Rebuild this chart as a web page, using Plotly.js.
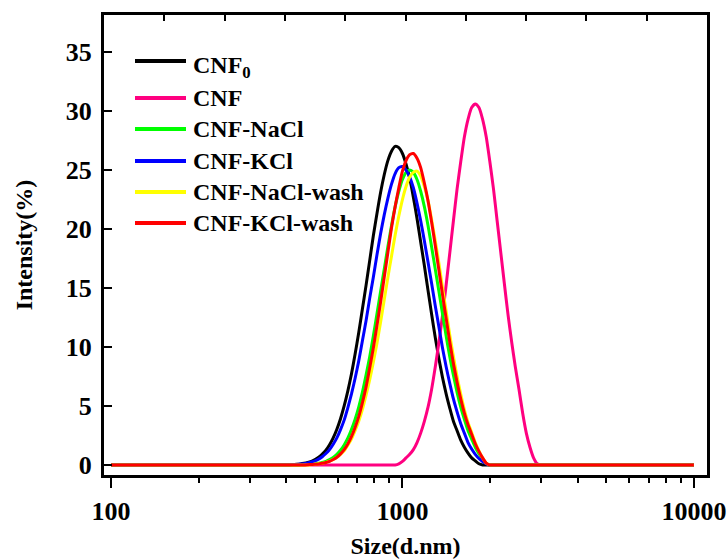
<!DOCTYPE html>
<html>
<head>
<meta charset="utf-8">
<script src="https://cdn.plot.ly/plotly-3.0.1.min.js"></script>
<style>html,body{margin:0;padding:0;background:#fff;}#chart{width:727px;height:559px;}</style>
</head>
<body>
<div id="chart"></div>
<script>
// Particle size (d.nm)
const sizes = [100,
  398.1, 409.7, 421.7, 434.0, 446.7, 459.7, 473.2, 487.0,
  501.2, 515.8, 530.9, 546.4, 562.3, 578.7, 595.7, 613.1,
  631.0, 649.4, 668.3, 687.8, 707.9, 728.6, 749.9, 771.8,
  794.3, 817.5, 841.4, 866.0, 891.3, 917.3, 944.1, 971.7,
  1000, 1029, 1059, 1090, 1122, 1155, 1189, 1224,
  1259, 1296, 1334, 1373, 1413, 1454, 1496, 1540,
  1585, 1631, 1679, 1728, 1778, 1830, 1884, 1939,
  1995, 2053, 2113, 2175, 2239, 2304, 2371, 2440,
  2512, 2585, 2661, 2739, 2818, 2900, 2985, 3072,
  3162, 10000];

// Intensity (%)
const cnf0 = [0,
  0.01, 0.02, 0.04, 0.06, 0.09, 0.14, 0.21, 0.31,
  0.46, 0.65, 0.92, 1.26, 1.72, 2.30, 3.03, 3.92,
  5.0, 6.26, 7.7, 9.38, 11.2, 13.2, 15.2, 17.3,
  19.4, 21.3, 23.1, 24.6, 25.8, 26.6, 27.0, 26.9,
  26.4, 25.5, 24.3, 22.7, 20.9, 18.9, 16.9, 14.8,
  12.8, 10.8, 9.0, 7.4, 6.0, 4.8, 3.7, 2.9,
  2.1, 1.5, 1.0, 0.6, 0.35, 0.1, 0, 0,
  0, 0, 0, 0, 0, 0, 0, 0,
  0, 0, 0, 0, 0, 0, 0, 0,
  0, 0];
const cnf = [0,
  0, 0, 0, 0, 0, 0, 0, 0,
  0, 0, 0, 0, 0, 0, 0, 0,
  0, 0, 0, 0, 0, 0, 0, 0,
  0, 0, 0, 0, 0, 0, 0, 0.1,
  0.3, 0.6, 0.9, 1.3, 1.9, 2.7, 3.7, 4.9,
  6.4, 8.3, 10.4, 12.7, 15.3, 18.0, 20.7, 23.4,
  25.7, 27.8, 29.3, 30.3, 30.6, 30.3, 29.3, 27.8,
  25.7, 23.4, 20.7, 18.0, 15.3, 12.7, 10.4, 8.3,
  6.4, 4.4, 2.7, 1.5, 0.6, 0.1, 0, 0,
  0, 0];
const cnfNaCl = [0,
  0, 0, 0, 0, 0.01, 0.02, 0.04, 0.06,
  0.09, 0.14, 0.21, 0.31, 0.45, 0.64, 0.9, 1.25,
  1.7, 2.27, 3.0, 3.86, 4.9, 6.15, 7.6, 9.15,
  10.9, 12.8, 14.7, 16.6, 18.5, 20.3, 21.9, 23.2,
  24.2, 24.8, 25.0, 24.8, 24.2, 23.2, 21.9, 20.3,
  18.5, 16.6, 14.7, 12.8, 10.9, 9.15, 7.6, 6.15,
  4.9, 3.86, 2.9, 2.2, 1.5, 0.95, 0.5, 0.15,
  0, 0, 0, 0, 0, 0, 0, 0,
  0, 0, 0, 0, 0, 0, 0, 0,
  0, 0];
const cnfKCl = [0,
  0.01, 0.02, 0.03, 0.05, 0.08, 0.11, 0.17, 0.25,
  0.35, 0.50, 0.7, 0.97, 1.3, 1.76, 2.3, 3.0,
  3.8, 4.84, 6.0, 7.33, 8.8, 10.5, 12.2, 14.1,
  15.9, 17.8, 19.6, 21.2, 22.6, 23.8, 24.7, 25.2,
  25.3, 25.0, 24.4, 23.5, 22.2, 20.7, 19.0, 17.2,
  15.4, 13.5, 11.7, 9.9, 8.3, 6.9, 5.6, 4.5,
  3.5, 2.7, 1.9, 1.35, 0.9, 0.55, 0.3, 0.1,
  0, 0, 0, 0, 0, 0, 0, 0,
  0, 0, 0, 0, 0, 0, 0, 0,
  0, 0];
const cnfNaClW = [0,
  0, 0, 0, 0, 0, 0, 0, 0.02,
  0.06, 0.1, 0.15, 0.22, 0.32, 0.46, 0.65, 0.9,
  1.2, 1.67, 2.2, 2.9, 3.7, 4.7, 5.9, 7.2,
  8.7, 10.3, 12.1, 14.0, 15.9, 17.7, 19.5, 21.1,
  22.5, 23.6, 24.4, 24.8, 24.9, 24.5, 23.6, 22.4,
  20.8, 19.0, 17.1, 15.0, 13.0, 11.0, 9.2, 7.5,
  6.0, 4.7, 3.6, 2.75, 1.9, 1.2, 0.6, 0.15,
  0, 0, 0, 0, 0, 0, 0, 0,
  0, 0, 0, 0, 0, 0, 0, 0,
  0, 0];
const cnfKClW = [0,
  0, 0, 0, 0, 0, 0, 0.02, 0.04,
  0.06, 0.09, 0.14, 0.21, 0.31, 0.46, 0.66, 0.94,
  1.3, 1.78, 2.4, 3.18, 4.1, 5.27, 6.6, 8.2,
  9.9, 11.8, 13.8, 15.9, 18.0, 20.1, 21.9, 23.5,
  24.9, 25.8, 26.3, 26.4, 26.0, 25.2, 23.9, 22.4,
  20.6, 18.6, 16.5, 14.4, 12.4, 10.4, 8.6, 7.0,
  5.6, 4.4, 3.4, 2.6, 1.8, 1.15, 0.6, 0.15,
  0, 0, 0, 0, 0, 0, 0, 0,
  0, 0, 0, 0, 0, 0, 0, 0,
  0, 0];

const seriesNames = ['CNF<sub>0</sub>', 'CNF', 'CNF-NaCl', 'CNF-KCl', 'CNF-NaCl-wash', 'CNF-KCl-wash'];
const seriesData = [cnf0, cnf, cnfNaCl, cnfKCl, cnfNaClW, cnfKClW];

const xTickVals = [100, 1000, 10000];
const xTickText = ['100', '1000', '10000'];
const yTickVals = [0, 5, 10, 15, 20, 25, 30, 35];

// styles
const colors = ['#000000', '#FF0080', '#00FF00', '#0000FF', '#FFFF00', '#FF0000'];
const FONT = 'Liberation Serif, Times New Roman, serif';
const FS = 26;

const traces = seriesData.map((ys, i) => ({
  x: sizes, y: ys, type: 'scatter', mode: 'lines',
  name: seriesNames[i],
  line: {color: colors[i], width: 3, shape: 'spline', smoothing: 0.6, simplify: false},
  showlegend: false, hoverinfo: 'skip'
}));
traces.push({x: [], y: [], xaxis: 'x2', yaxis: 'y', type: 'scatter', showlegend: false});

// minor tick positions from decades
const minorVals = [];
for (let d = 100; d < 10000; d *= 10) for (let k = 2; k <= 9; k++) minorVals.push(d * k);

// custom legend (plot area: x 104..707, y 15..475)
const PL = 104, PW = 603, PT = 15, PH = 460;
const px2x = p => (p - PL) / PW;
const py2y = p => (PT + PH - p) / PH;
const rowY = [61, 98, 129, 161, 192, 223];
const shapes = [], annotations = [];
seriesNames.forEach((n, i) => {
  shapes.push({type: 'line', xref: 'paper', yref: 'paper', x0: px2x(135), x1: px2x(186),
    y0: py2y(rowY[i]), y1: py2y(rowY[i]), line: {color: colors[i], width: 4}});
  annotations.push({xref: 'paper', yref: 'paper', x: px2x(191), y: py2y(rowY[i]) + (i === 0 ? -0.012 : 0),
    xanchor: 'left', yanchor: 'middle', text: n, showarrow: false,
    font: {family: FONT, size: 24, color: '#000', weight: 'bold'}});
});

const tickFont = {family: FONT, size: FS, color: '#000', weight: 'bold'};

const layout = {
  width: 727, height: 559,
  margin: {l: 104, r: 20, t: 15, b: 84},
  paper_bgcolor: '#fff', plot_bgcolor: '#fff',
  showlegend: false,
  xaxis: {
    type: 'log', range: [1.976, 4.045],
    tickvals: xTickVals, ticktext: xTickText,
    ticks: 'outside', ticklen: 10, tickwidth: 2, tickcolor: '#000',
    minor: {tickvals: minorVals, ticks: 'outside', ticklen: 5, tickwidth: 2, tickcolor: '#000', showgrid: false},
    showline: true, linewidth: 3, linecolor: '#000', mirror: true,
    showgrid: false, zeroline: false,
    tickfont: tickFont, ticklabelstandoff: 1,
    title: {text: 'Size(d.nm)', font: {family: FONT, size: 24, color: '#000', weight: 'bold'}, standoff: 15},
    automargin: false
  },
  xaxis2: {
    overlaying: 'x', side: 'top', anchor: 'y', range: [0, 10], dtick: 1,
    ticks: 'inside', ticklen: 6, tickwidth: 2, tickcolor: '#000',
    showticklabels: false, showline: false, showgrid: false, zeroline: false
  },
  yaxis: {
    range: [-0.85, 38.14],
    tickvals: yTickVals,
    ticks: 'inside', ticklen: 8, tickwidth: 2, tickcolor: '#000',
    showline: true, linewidth: 3, linecolor: '#000', mirror: true,
    showgrid: false, zeroline: false,
    tickfont: tickFont, ticklabelstandoff: 4,
    title: {text: 'Intensity(%)', font: {family: FONT, size: 24, color: '#000', weight: 'bold'}, standoff: 27},
    automargin: false
  },
  shapes: shapes,
  annotations: annotations
};

Plotly.newPlot('chart', traces, layout, {displayModeBar: false, staticPlot: true});
</script>
</body>
</html>
